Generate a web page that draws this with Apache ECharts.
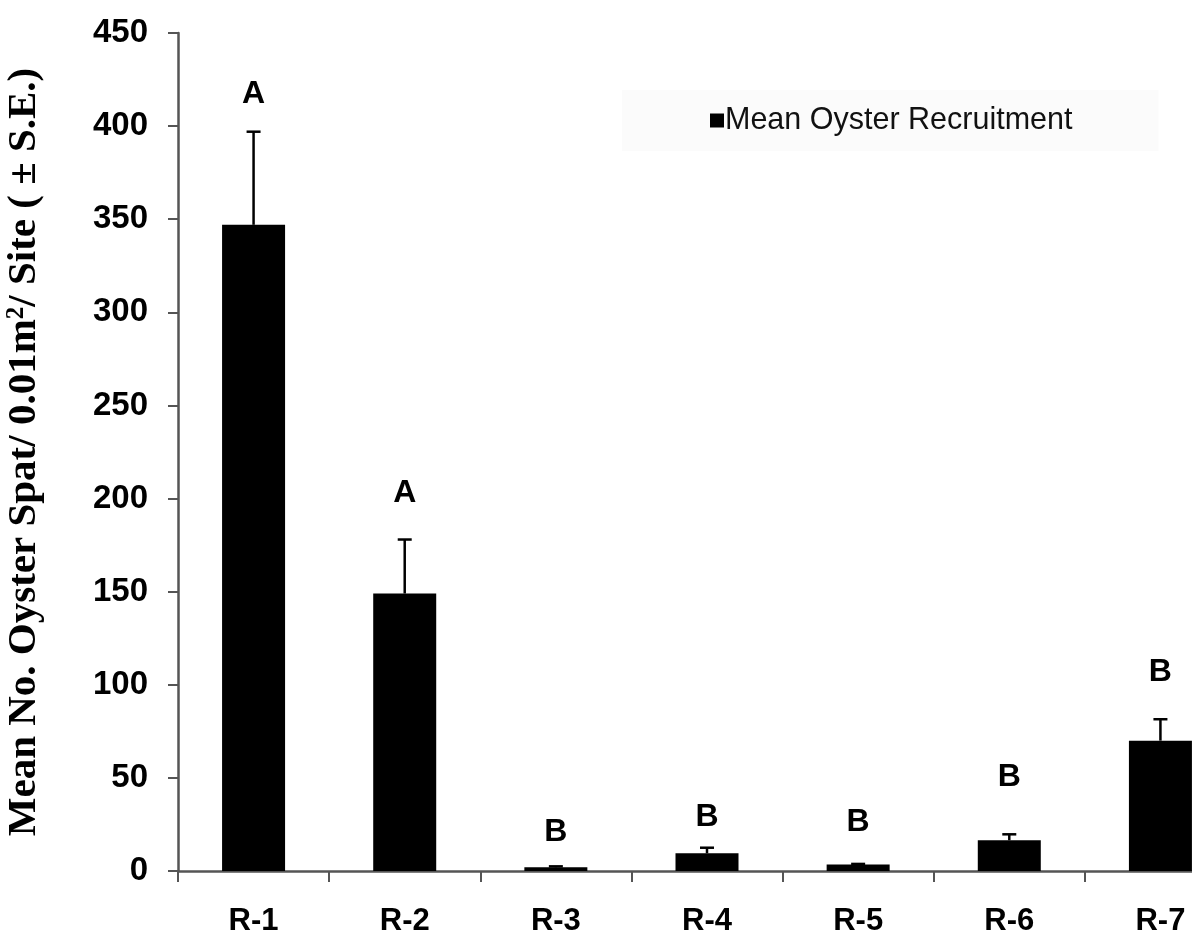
<!DOCTYPE html>
<html>
<head>
<meta charset="utf-8">
<script src="https://cdn.jsdelivr.net/npm/echarts@6/dist/echarts.min.js"></script>
<style>html,body{margin:0;padding:0;background:#fff;}#c{width:1192px;height:952px;}</style>
</head>
<body>
<div id="c"></div>
<script>
const categories = ['R-1', 'R-2', 'R-3', 'R-4', 'R-5', 'R-6', 'R-7'];
const meanValues = [347, 149, 2, 9.5, 3.5, 16.5, 70];
const seValues = [50, 29, 0.5, 3, 0.3, 3.2, 11.5];
const letters = ['A', 'A', 'B', 'B', 'B', 'B', 'B'];
const letterValues = [417, 203, 21, 29, 26, 50.5, 107];
const yTicks = [0, 50, 100, 150, 200, 250, 300, 350, 400, 450];

const chart = echarts.init(document.getElementById('c'));
const axisColor = '#555555';
chart.setOption({
  animation: false,
  backgroundColor: '#ffffff',
  grid: { left: 178, width: 1058, top: 33, height: 838, containLabel: false, outerBoundsMode: 'none' },
  legend: {
    data: [{ name: 'Mean Oyster Recruitment', icon: 'rect' }],
    left: 622, top: 90,
    padding: [15, 86, 15, 88],
    backgroundColor: '#fbfbfb',
    itemWidth: 14, itemHeight: 14, itemGap: 0,
    textStyle: { fontFamily: 'Liberation Sans, Arial, sans-serif', fontSize: 30.5, color: '#111', padding: [0, 0, 0, -4] }
  },
  xAxis: {
    type: 'category',
    data: categories,
    axisLine: { lineStyle: { color: axisColor, width: 2.5 } },
    axisTick: { show: true, length: 11, lineStyle: { color: axisColor, width: 2 } },
    axisLabel: { margin: 35, fontFamily: 'Liberation Sans, Arial, sans-serif', fontWeight: 'bold', fontSize: 31, color: '#000' }
  },
  yAxis: {
    type: 'value',
    min: yTicks[0], max: yTicks[yTicks.length - 1], interval: 50,
    splitLine: { show: false },
    axisLine: { show: true, lineStyle: { color: axisColor, width: 2.5 } },
    axisTick: { show: true, length: 10, lineStyle: { color: axisColor, width: 2 } },
    axisLabel: { margin: 30, fontFamily: 'Liberation Sans, Arial, sans-serif', fontWeight: 'bold', fontSize: 33, color: '#000' },
    name: '{t|Mean No. Oyster Spat/ 0.01m}{s|2}{t|/ Site ( ± S.E.)}',
    nameLocation: 'middle',
    nameGap: 133,
    nameRotate: 90,
    nameTextStyle: {
      rich: {
        t: { fontFamily: 'Liberation Serif, Times New Roman, serif', fontWeight: 'bold', fontSize: 41, color: '#000' },
        s: { fontFamily: 'Liberation Serif, Times New Roman, serif', fontWeight: 'bold', fontSize: 25, color: '#000', verticalAlign: 'top', padding: [0, 0, 16, 0] }
      }
    }
  },
  series: [
    {
      name: 'Mean Oyster Recruitment',
      type: 'bar',
      data: meanValues,
      barWidth: 63,
      itemStyle: { color: '#000000' },
      z: 2
    },
    {
      type: 'custom',
      name: 'err',
      data: meanValues.map((v, i) => [i, v, v + seValues[i]]),
      renderItem: function (params, api) {
        const x = api.coord([api.value(0), api.value(1)])[0];
        const y0 = api.coord([api.value(0), api.value(1)])[1];
        const y1 = api.coord([api.value(0), api.value(2)])[1];
        return {
          type: 'group',
          children: [
            { type: 'line', shape: { x1: x, y1: y0, x2: x, y2: y1 }, style: { stroke: '#000', lineWidth: 2.5 } },
            { type: 'line', shape: { x1: x - 7, y1: y1, x2: x + 7, y2: y1 }, style: { stroke: '#000', lineWidth: 2.5 } }
          ]
        };
      },
      z: 3
    },
    {
      type: 'custom',
      name: 'letters',
      data: letterValues.map((v, i) => [i, v]),
      renderItem: function (params, api) {
        const p = api.coord([api.value(0), api.value(1)]);
        return {
          type: 'text',
          x: p[0], y: p[1],
          style: {
            text: letters[params.dataIndex],
            fill: '#000',
            font: 'bold 32px "Liberation Sans", Arial, sans-serif',
            textAlign: 'center', textVerticalAlign: 'middle'
          }
        };
      },
      z: 4
    }
  ]
});
</script>
</body>
</html>
